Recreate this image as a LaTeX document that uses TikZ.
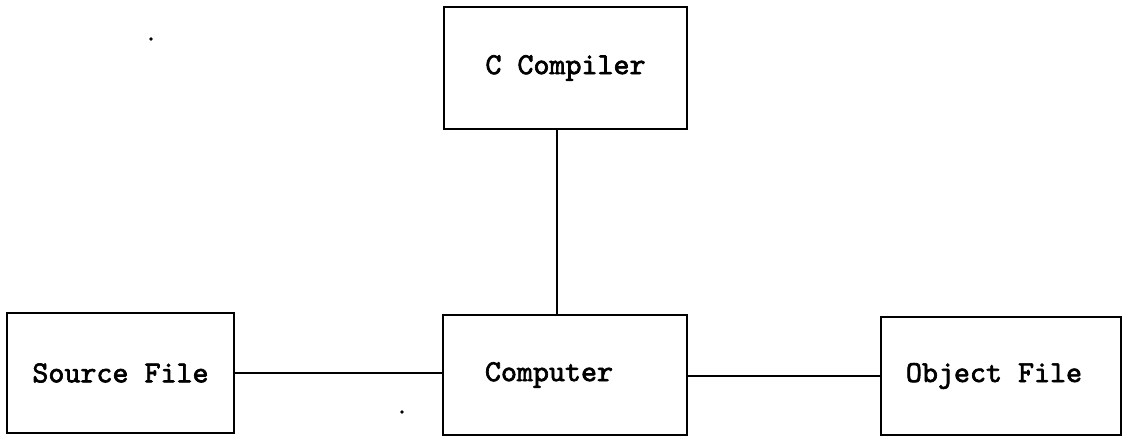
\documentclass[tikz,border=0pt]{standalone}
\usepackage{fontspec}
\setmonofont{lmmono10-regular}[Extension=.otf, AutoFakeBold=2.2]
\usetikzlibrary{calc}
\begin{document}
\begin{tikzpicture}[x=1pt,y=-1pt,
  block/.style={draw=black, line width=2.4pt, fill=white, inner sep=0pt,
    font=\ttfamily\bfseries\fontsize{30.5}{34}\selectfont},
  link/.style={draw=black, line width=2.4pt},
  speck/.style={fill=black, draw=none}]
  \useasboundingbox (0,0) rectangle (1127,436);
  % the four boxes
  \node[block, minimum width=243pt, minimum height=122pt] (cc)   at (565.5,68)  {C Compiler};
  \node[block, minimum width=227pt, minimum height=120pt] (src)  at (120.5,373) {Source File};
  \node[block, minimum width=244pt, minimum height=120pt] (comp) at (565,375)   {Computer\hspace*{32pt}};
  \node[block, minimum width=240pt, minimum height=118pt] (obj)  at (1001,376)  {Object File\hspace*{14pt}};
  % connections
  \coordinate (ccfoot) at ($(cc.south west)!0.465!(cc.south east)$);
  \draw[link] (ccfoot) -- (ccfoot |- comp.north);
  \draw[link] (src.east) -- (src.east -| comp.west);
  \draw[link] (comp.east |- obj.west) -- (obj.west);
  % stray ink specks
  \fill[speck] (151,39) circle (1.8pt);
  \fill[speck] (402,412) circle (1.9pt);
\end{tikzpicture}
\end{document}
